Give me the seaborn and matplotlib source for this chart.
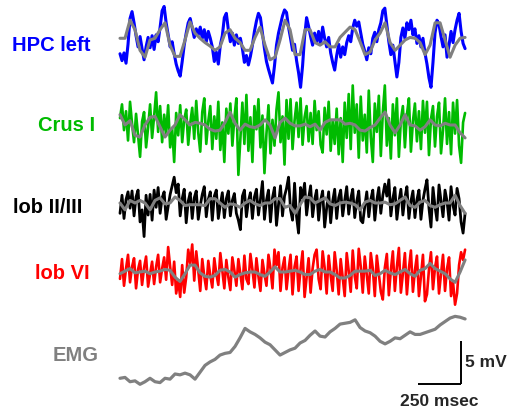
import numpy as np
import matplotlib
matplotlib.use("Agg")
import matplotlib.pyplot as plt
import seaborn as sns

sns.set_theme(style="white")
plt.rcParams["font.family"] = ["Liberation Sans", "DejaVu Sans"]

# ---- recorded traces (mV), 2.01 s window ----
DURATION_MS = 2011

HPC_RAW = [-1.6, -2.4, -1.5, -2.7, -0.5, 2.5, 3.3, 2.0, 0.5, -0.8, 0.4, -1.0, -2.3, -0.8, 0.3, -0.9,
           0.5, -1.1, 0.6, -0.2, 1.5, 3.4, 3.9, 2.0, 0.6, -0.8, -0.2, -1.6, -2.8, -3.6, -4.2, -2.5,
           -0.6, 0.8, 2.0, 2.5, 1.4, 0.3, 1.3, 0.6, 1.5, 0.2, 1.2, -0.2, 1.0, 0.2, -0.8, -2.5,
           -1.4, -2.8, -0.6, 0.5, 2.6, 3.1, 1.2, -0.2, 0.8, -0.6, 0.6, -0.4, 0.2, -1.0, -2.6, -1.8,
           -2.9, -1.9, -0.6, 1.0, 2.2, 3.1, 2.6, 0.8, -1.0, -2.5, -3.4, -4.2, -5.0, -3.0, -0.6, 0.8,
           1.8, 2.8, 3.5, 3.2, 1.5, 0.2, -1.2, -0.5, -2.4, -3.8, -5.5, -3.0, 0.4, 2.6, 1.6, 0.4,
           -0.6, 0.8, -0.3, 1.0, -0.5, 1.5, 0.2, -0.8, 0.3, -1.5, -2.6, -3.5, -1.8, -0.5, -2.0, -0.8,
           -1.7, -0.3, 0.5, -0.2, 1.4, 2.3, 1.6, 2.1, 0.8, -0.5, -1.3, -2.3, -0.9, -1.6, 0.2, 0.9,
           -0.2, 1.2, 2.0, 3.4, 3.7, 1.8, -0.2, -1.7, -0.6, -2.4, -4.3, -2.6, 0.3, 1.4, 0.2, 2.0,
           1.2, 2.3, 0.6, 1.3, -0.4, 0.5, -0.8, 0.2, -1.5, -2.8, -4.4, -5.5, -2.6, 0.8, 2.3, 1.8,
           0.4, -0.8, 0.6, -2.0, -0.6, 1.0, -0.3, 1.2, 2.3, 3.1, 1.0, -0.4, -1.0]
HPC_SLOW = [0.2, 0.2, 2.3, 1.2, -1.2, -2.0, 0.0, 0.2, 1.2, 2.0,
            -0.6, -1.9, -1.9, 0.0, 2.1, 0.8, 0.2, -0.3, -0.7, -1.2,
            -0.8, 0.8, 1.2, 0.2, -0.3, -1.2, -1.2, 0.3, 1.5, -0.6,
            -2.3, -2.0, 0.0, 2.3, 1.2, -1.7, -1.7, 1.2, 1.2, -0.3,
            -0.6, -0.2, -0.8, -0.8, 0.3, 0.9, 1.5, 1.2, -0.2, -1.7,
            -1.4, 0.0, 0.8, 2.0, -0.3, -1.2, -0.6, 0.0, 0.3, 0.2,
            -0.3, -1.7, -0.6, 2.0, 2.0, 0.0, -2.0, -0.6, 0.2, 0.3]

CRUS_RAW = [0.8, 2.4, -0.6, 1.6, -1.8, 2.7, 0.2, -2.0, 1.3, -1.2, -3.7, 0.4, 1.5, -2.6, -0.3, 2.4,
            -1.5, 1.0, 3.8, -0.8, 2.2, -2.0, 1.2, -1.0, 2.3, -2.6, -0.4, -4.3, 1.4, -1.2, 2.3, -2.0,
            0.6, 1.8, -2.3, 0.2, 2.0, -1.6, 2.8, -0.9, -3.1, 1.5, 3.1, -2.2, 0.4, 2.2, -2.8, 1.0,
            -1.6, 2.7, -2.9, 0.3, -4.3, 1.9, -1.0, 2.5, -2.4, 0.8, 3.1, -5.8, -1.5, 2.6, -2.2, 3.5,
            -3.0, 0.9, -4.3, 2.2, -0.5, 3.0, -2.6, 1.1, -5.6, -1.0, 2.3, -3.3, 0.6, -2.4, 1.8, 3.8,
            -2.0, 1.0, -4.6, 2.9, -1.6, 3.0, -2.8, 0.5, 2.6, -1.4, 3.1, -2.3, 0.9, 2.2, -1.9, 1.4,
            -2.2, 2.8, -0.6, 1.6, -2.3, -3.2, 2.0, -1.1, 2.7, -3.0, 0.5, -2.2, 1.9, -3.4, 0.8, -4.3,
            2.6, -1.5, 3.6, -2.8, 4.6, -0.9, 2.4, -3.8, 3.3, -1.8, 1.2, -3.2, 4.0, -1.4, -4.3, 2.5,
            -0.8, 3.4, -3.6, 1.5, 4.6, -2.4, 0.8, -3.9, 2.4, -1.2, 3.1, -3.7, 0.6, 2.2, -2.6, 1.2,
            3.1, -3.1, 0.4, 2.5, -1.9, 1.6, -2.8, 2.8, -0.9, 2.7, -3.5, 0.7, 2.2, -2.5, 1.0, 2.6,
            -3.3, -0.6, 3.1, -2.2, 1.5, -3.4, 2.6, -1.0, 2.9, -2.4, -4.4, 0.3, 1.4]
CRUS_SLOW = [1.2, 0.0, 0.5, -1.2, -1.4, 0.0, 0.9, 1.0, -0.2, -1.4,
             -0.6, 0.0, 1.2, 0.6, 0.0, 0.3, 0.2, 0.0, -0.5, -0.7,
             -0.6, 0.3, 1.5, 0.2, -0.6, 0.1, -0.2, -0.3, 0.0, 0.6,
             0.0, -1.5, 0.3, 0.8, 0.2, -0.1, -0.1, 0.1, -0.2, 0.1,
             -0.6, 0.3, 0.6, 0.6, 0.6, 0.1, 0.2, 0.0, -0.6, -0.7,
             -0.3, 0.0, 0.8, 1.5, 0.0, -0.9, 0.0, 1.2, 0.0, -0.1,
             -0.6, -0.2, 0.6, 0.0, -0.1, 0.2, 0.0, 0.0, -0.9, -1.5]

LOB23_RAW = [-1.2, 0.9, -1.8, 0.4, 1.3, -0.6, 1.4, -1.5, 0.7, 1.5, -2.2, -0.8, -3.9, 0.9, -1.4, 1.0,
             -2.0, 1.5, -0.5, 1.8, -1.2, 0.6, 1.3, -1.9, -0.4, 1.0, 2.0, 3.0, 1.2, 2.2, -1.5, 0.5,
             1.6, -2.3, 0.2, 1.2, -1.8, 0.6, 1.4, -1.9, -0.3, 1.0, 1.9, -1.6, 0.4, 1.3, -2.0, 0.8,
             1.5, -1.8, -0.2, 1.2, -1.7, 0.5, 1.4, -1.5, 0.3, 1.1, -1.2, -2.0, -3.1, 0.8, 1.5, -1.6,
             0.2, 1.2, -1.8, 0.7, 1.6, -1.4, 0.4, 2.5, -1.9, 0.3, 1.5, -2.2, 0.6, 1.8, -2.6, -0.2,
             2.0, -1.5, 0.8, 1.7, 3.0, -0.8, -2.0, 2.3, -1.6, -3.5, 1.8, 0.6, 2.3, -1.4, 0.5, 2.0,
             -1.6, 0.4, 1.5, -2.0, 0.3, 1.4, -2.8, -0.6, 1.3, -2.3, 0.2, 1.6, -1.8, 0.6, 1.5, -1.5,
             0.3, 1.9, -1.3, 0.5, 1.6, -1.7, 0.2, 1.4, -2.0, -2.3, -0.4, 1.3, -1.6, 0.4, 1.5, -2.0,
             0.3, 1.8, -1.2, 0.9, 2.2, 0.8, 2.7, -1.5, 0.5, 1.8, -1.9, 0.1, 1.6, -1.4, 0.6, 1.9,
             -1.8, 0.2, 1.4, -1.7, 0.4, 1.5, -1.9, 0.3, 1.6, 2.7, -0.6, -2.8, 1.8, -0.4, -2.0, 2.1,
             0.3, -1.6, 1.5, 0.2, -2.0, 1.9, -0.3, -1.4, 1.7, 0.5, -2.2, -3.5, -1.2]
LOB23_SLOW = [0.0, -0.8, 0.3, 0.0, 0.3, 0.0, -0.8, 0.3, 0.6, -0.1,
              0.0, 0.7, 0.3, -0.3, -0.2, -0.2, -0.2, -0.3, 0.5, 0.5,
              0.0, -0.5, -0.1, -0.2, -0.5, 0.0, 0.3, -0.1, -0.3, 0.0,
              0.0, 0.5, 0.5, -0.5, -0.3, -1.2, -0.2, 0.7, 0.6, 0.0,
              0.3, 0.6, -0.1, -0.3, 0.0, 0.1, 0.0, -0.2, -0.8, 0.1,
              0.3, 0.0, 0.0, 0.1, -0.2, -0.1, 0.3, 0.7, -0.3, -0.5,
              0.1, 0.3, -0.3, -0.5, -0.2, 0.0, 0.0, 0.9, -0.3, -1.2]

LOB6_RAW = [-0.8, 1.5, -1.6, 0.4, 2.0, -1.2, 0.6, 1.6, -1.9, 0.3, 1.3, -1.5, 0.5, 1.8, -1.7, -0.2,
            1.2, -1.4, 0.6, 2.0, -1.2, 0.4, 1.7, -0.9, 2.9, 0.6, -1.5, 1.2, -2.5, -1.0, -2.9, 0.8,
            -2.4, -0.6, 2.6, 1.0, 3.2, -1.0, 2.4, 0.2, -2.2, 1.5, -0.5, -2.0, 1.3, -0.4, -1.8, 1.6,
            -0.2, -1.5, 2.2, 0.1, -1.9, 1.4, -0.6, -2.1, 1.7, 0.2, -1.6, 1.5, -0.3, -2.0, 1.9, -0.8,
            -1.4, 2.1, 0.3, -1.8, 1.6, -0.5, -2.2, 1.4, -0.2, -1.6, 2.0, 0.4, -1.9, 2.6, 0.8, 2.3,
            -2.2, 0.5, 1.7, -2.0, 0.2, 2.0, -2.6, 0.6, 1.8, -2.2, 0.3, 2.4, -2.9, -0.6, 1.6, -2.4,
            0.4, 2.0, 2.6, -0.8, -2.0, 2.4, 0.5, -2.5, 1.9, -0.4, -2.2, 2.3, 0.2, -2.6, 1.5, -0.6,
            -2.8, 2.2, 0.1, -2.3, 2.5, -0.5, -1.9, 2.7, 0.6, -2.4, 1.8, -0.3, -2.5, 2.2, 0.4, -2.8,
            1.9, -0.2, -2.3, -3.2, 0.5, 2.1, -2.7, 0.2, 2.4, -2.2, 0.6, 2.8, -2.4, -0.2, 2.2, -2.6,
            0.4, 2.5, -2.3, 0.2, 1.9, -2.8, -0.5, 2.0, -3.4, -2.6, 0.3, 2.3, -2.0, 0.5, 1.8, -2.5,
            -0.3, 2.0, -2.2, 0.4, 1.7, -2.8, -1.2, -3.8, -2.5, 0.8, 2.3, 1.4, 2.6]
LOB6_SLOW = [-0.2, 0.1, 0.4, -0.1, 0.0, 0.1, -0.2, 0.0, 0.1, 0.3,
             0.2, -0.6, -1.1, -0.2, 0.8, 0.8, -0.1, -0.5, -0.6, -0.4,
             0.2, 0.3, 0.0, -0.6, -0.3, -0.1, 0.0, 0.0, -0.3, -0.5,
             0.0, 0.6, 0.0, 0.0, 0.1, 0.2, 0.0, -0.3, -0.3, 0.1,
             0.3, 0.0, 0.0, -0.3, -0.7, -0.7, -0.4, 0.1, 0.1, 0.1,
             0.2, -0.4, -0.2, 0.2, -0.1, -0.3, 0.0, 0.3, -0.2, -0.5,
             0.2, 0.4, 1.0, 0.4, 0.1, -0.2, -0.8, -1.2, 0.0, 1.4]

EMG = [0.2, 0.3, -0.2, -0.1, -0.5, -0.2, 0.2, -0.2, -0.3, 0.2,
       0.1, 0.7, 0.6, 0.8, 0.6, 0.1, 0.9, 1.7, 2.1, 2.4,
       2.9, 3.1, 3.2, 3.9, 4.9, 6.0, 5.6, 5.3, 4.9, 4.4,
       4.1, 3.5, 2.9, 3.2, 3.5, 3.7, 4.3, 4.6, 5.2, 5.7,
       5.1, 5.0, 5.6, 6.0, 6.5, 6.6, 6.7, 7.0, 6.1, 5.7,
       5.5, 5.1, 4.5, 4.2, 4.5, 4.9, 4.8, 5.2, 5.6, 5.3,
       5.3, 5.5, 5.7, 5.9, 6.4, 6.8, 7.2, 7.4, 7.3, 7.1]

LABELS = ["HPC left", "Crus I", "lob II/III", "lob VI", "EMG"]
COLORS = ["#0000ff", "#00bb00", "#000000", "#ff0000", "#808080"]
SLOW_COLOR = "#808080"
SCALE_MS = 250
SCALE_MV = 5

# ---- page geometry: one axis in ms / mV spanning the whole figure ----
W, H = 519, 411
MS_PER_PX = 250 / 42.9
PX_PER_MV = 8.6
X0 = 120  # pixel column where traces start

fig = plt.figure(figsize=(W / 100, H / 100), dpi=100)
ax = fig.add_axes([0, 0, 1, 1])
ax.set_xlim(-X0 * MS_PER_PX, (W - X0) * MS_PER_PX)
ax.set_ylim(0, H / PX_PER_MV)
ax.axis("off")


def row_offset(py):
    return (H - py) / PX_PER_MV


rows = [
    (HPC_RAW, HPC_SLOW, row_offset(40), 2.2),
    (CRUS_RAW, CRUS_SLOW, row_offset(125), 1.9),
    (LOB23_RAW, LOB23_SLOW, row_offset(203), 2.0),
    (LOB6_RAW, LOB6_SLOW, row_offset(272), 1.9),
]

for (raw, slow, off, lw), col in zip(rows, COLORS[:4]):
    t_raw = np.linspace(0, DURATION_MS, len(raw))
    t_slow = np.linspace(0, DURATION_MS, len(slow))
    sns.lineplot(x=t_raw, y=np.array(raw) + off, ax=ax, color=col,
                 linewidth=lw, estimator=None, sort=False)
    sns.lineplot(x=t_slow, y=np.array(slow) + off, ax=ax, color=SLOW_COLOR,
                 linewidth=2.2, estimator=None, sort=False)

t_emg = np.linspace(0, DURATION_MS, len(EMG))
sns.lineplot(x=t_emg, y=np.array(EMG) + row_offset(380), ax=ax, color=COLORS[4],
             linewidth=2.3, estimator=None, sort=False)

# channel names
label_pos = [(90, 45), (95, 125), (82, 207), (90, 273), (99, 355)]
for name, col, (px, py) in zip(LABELS, COLORS, label_pos):
    ax.text((px - X0) * MS_PER_PX, row_offset(py), name, color=col,
            fontsize=14.5, fontweight="bold", ha="right", va="center")

# scale bars
cx = (461 - X0) * MS_PER_PX
cy = row_offset(384)
ax.plot([cx - SCALE_MS, cx], [cy, cy], color="black", linewidth=1.4,
        solid_capstyle="butt")
ax.plot([cx, cx], [cy, cy + SCALE_MV], color="black", linewidth=1.4,
        solid_capstyle="butt")
ax.text(cx + 4 * MS_PER_PX, cy + SCALE_MV / 2, f"{SCALE_MV} mV",
        fontsize=12.5, fontweight="bold", ha="left", va="center")
ax.text(cx - SCALE_MS / 2, cy - 2, f"{SCALE_MS} msec",
        fontsize=12.5, fontweight="bold", ha="center", va="center")

fig.savefig("out.png", dpi=100)
